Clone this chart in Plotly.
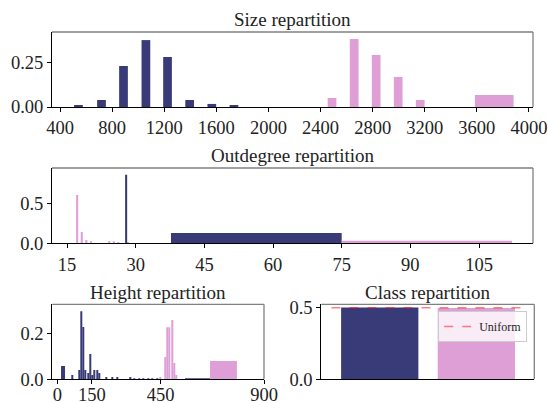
import plotly.graph_objects as go

BLUE = "#393b79"
PINK = "#de9ed6"
FONT = "Liberation Serif"

# ---------------- data ----------------
# Size repartition
size_blue_x = [541, 718, 887, 1059, 1225, 1395, 1565, 1735]
size_blue_y = [0.011, 0.039, 0.228, 0.372, 0.278, 0.039, 0.017, 0.011]
size_pink_x = [2488, 2658, 2827, 2996, 3165]
size_pink_y = [0.050, 0.378, 0.289, 0.167, 0.039]
size_pink_wide_lo = [3585]
size_pink_wide_hi = [3882]
size_pink_wide_y = [0.067]

# Outdegree repartition
out_pink_x = [17.2, 18.2, 19.2, 20.2, 24.2, 25.2, 26.2, 28.3]
out_pink_y = [0.614, 0.143, 0.042, 0.025, 0.025, 0.025, 0.017, 0.010]
out_blue_x = [27.9]
out_blue_y = [0.872]
out_blue_wide_lo = [37.7]
out_blue_wide_hi = [75.0]
out_blue_wide_y = [0.131]
out_pink_wide_lo = [75.0]
out_pink_wide_hi = [112.2]
out_pink_wide_y = [0.033]

# Height repartition
h_blue_x = [65, 96, 104, 113, 122, 135, 144, 152, 161, 174, 183, 213, 239, 261, 318,
            335, 355, 375, 395, 415, 435]
h_blue_y = [0.019, 0.041, 0.300, 0.231, 0.041, 0.028, 0.112, 0.019, 0.041, 0.041, 0.028,
            0.010, 0.010, 0.010, 0.010, 0.003, 0.003, 0.003, 0.003, 0.003, 0.003]
h_blue_wide_lo = [16, 556]
h_blue_wide_hi = [33.5, 665]
h_blue_wide_y = [0.059, 0.003]
h_pink_x = [448, 470, 479, 487, 500, 509, 518]
h_pink_y = [0.010, 0.098, 0.230, 0.230, 0.262, 0.072, 0.019]
h_pink_wide_lo = [665]
h_pink_wide_hi = [782]
h_pink_wide_y = [0.081]

# Class repartition
class_x = [0, 1]
class_y = [0.502, 0.498]
uniform_x = [-0.5, 1.5]
uniform_y = [0.5, 0.5]


def wide(lo, hi):
    return [(a + b) / 2 for a, b in zip(lo, hi)], [b - a for a, b in zip(lo, hi)]


fig = go.Figure()

# ---- top: size
fig.add_trace(go.Bar(x=size_blue_x, y=size_blue_y, width=67, marker_color=BLUE,
                     marker_line_width=0, xaxis="x", yaxis="y", showlegend=False))
fig.add_trace(go.Bar(x=size_pink_x, y=size_pink_y, width=67, marker_color=PINK,
                     marker_line_width=0, xaxis="x", yaxis="y", showlegend=False))
cx, w = wide(size_pink_wide_lo, size_pink_wide_hi)
fig.add_trace(go.Bar(x=cx, y=size_pink_wide_y, width=w, marker_color=PINK,
                     marker_line_width=0, xaxis="x", yaxis="y", showlegend=False))

# ---- middle: outdegree
fig.add_trace(go.Bar(x=out_pink_x, y=out_pink_y, width=0.45, marker_color=PINK,
                     marker_line_width=0, xaxis="x2", yaxis="y2", showlegend=False))
fig.add_trace(go.Bar(x=out_blue_x, y=out_blue_y, width=0.45, marker_color=BLUE,
                     marker_line_width=0, xaxis="x2", yaxis="y2", showlegend=False))
cx, w = wide(out_blue_wide_lo, out_blue_wide_hi)
fig.add_trace(go.Bar(x=cx, y=out_blue_wide_y, width=w, marker_color=BLUE,
                     marker_line_width=0, xaxis="x2", yaxis="y2", showlegend=False))
cx, w = wide(out_pink_wide_lo, out_pink_wide_hi)
fig.add_trace(go.Bar(x=cx, y=out_pink_wide_y, width=w, marker_color=PINK,
                     marker_line_width=0, xaxis="x2", yaxis="y2", showlegend=False))

# ---- bottom left: height
fig.add_trace(go.Bar(x=h_blue_x, y=h_blue_y, width=4, marker_color=BLUE,
                     marker_line_width=0, xaxis="x3", yaxis="y3", showlegend=False))
cx, w = wide(h_blue_wide_lo, h_blue_wide_hi)
fig.add_trace(go.Bar(x=cx, y=h_blue_wide_y, width=w, marker_color=BLUE,
                     marker_line_width=0, xaxis="x3", yaxis="y3", showlegend=False))
fig.add_trace(go.Bar(x=h_pink_x, y=h_pink_y, width=4, marker_color=PINK,
                     marker_line_width=0, xaxis="x3", yaxis="y3", showlegend=False))
cx, w = wide(h_pink_wide_lo, h_pink_wide_hi)
fig.add_trace(go.Bar(x=cx, y=h_pink_wide_y, width=w, marker_color=PINK,
                     marker_line_width=0, xaxis="x3", yaxis="y3", showlegend=False))

# ---- bottom right: class
fig.add_trace(go.Bar(x=class_x, y=class_y, width=0.8, marker_color=[BLUE, PINK],
                     marker_line_width=0, xaxis="x4", yaxis="y4", showlegend=False))
fig.add_trace(go.Scatter(x=uniform_x, y=uniform_y, mode="lines", name="Uniform",
                         line=dict(color="rgba(255,0,0,0.5)", width=1.5, dash="dash"),
                         xaxis="x4", yaxis="y4", showlegend=True))

W, H = 548, 403


def dom_x(a, b):
    return [a / W, b / W]


def dom_y(top, bottom):
    return [1 - bottom / H, 1 - top / H]


axis_common = dict(showline=True, linecolor="black", linewidth=1, mirror=False,
                   ticks="outside", ticklen=4, tickwidth=0.8, tickcolor="black",
                   showgrid=False, zeroline=False, automargin=False,
                   tickfont=dict(family=FONT, size=18.5, color="#222"))

fig.update_layout(
    width=W, height=H,
    margin=dict(l=0, r=0, t=0, b=0),
    paper_bgcolor="white", plot_bgcolor="white",
    barmode="overlay",
    font=dict(family=FONT, color="#222"),
    xaxis=dict(domain=dom_x(52, 533), range=[338, 4031], tickvals=list(range(400, 4001, 400)),
               anchor="y", **axis_common),
    yaxis=dict(domain=dom_y(32, 107), range=[0, 0.417], tickvals=[0, 0.25],
               ticktext=["0.00", "0.25"], anchor="x", **axis_common),
    xaxis2=dict(domain=dom_x(52, 533), range=[11.7, 116.8], tickvals=list(range(15, 106, 15)),
                anchor="y2", **axis_common),
    yaxis2=dict(domain=dom_y(168, 243.3), range=[0, 0.957], tickvals=[0, 0.5],
                ticktext=["0.0", "0.5"], anchor="x2", **axis_common),
    xaxis3=dict(domain=dom_x(52.3, 264), range=[-22, 900], tickvals=[0, 150, 450, 900],
                anchor="y3", ticklabelstandoff=-6, **axis_common),
    yaxis3=dict(domain=dom_y(304.3, 379.3), range=[0, 0.331], tickvals=[0, 0.2],
                ticktext=["0.0", "0.2"], anchor="x3", **axis_common),
    xaxis4=dict(domain=dom_x(321.3, 534.3), range=[-0.605, 1.6], anchor="y4",
                showline=True, linecolor="black", linewidth=1, showticklabels=False,
                ticks="", showgrid=False, zeroline=False, automargin=False),
    yaxis4=dict(domain=dom_y(304.3, 379.3), range=[0, 0.5236], tickvals=[0, 0.5],
                ticktext=["0.0", "0.5"], anchor="x4", **axis_common),
    legend=dict(x=0.962, y=0.2283, xanchor="right", yanchor="top",
                bgcolor="rgba(255,255,255,0.8)", bordercolor="#cccccc", borderwidth=1,
                font=dict(family=FONT, size=12, color="#222"),
                itemwidth=30, tracegroupgap=0),
)

# gray top/right frame lines + titles
titles = [("Size repartition", "x", "y", 19),
          ("Outdegree repartition", "x2", "y2", 155),
          ("Height repartition", "x3", "y3", 292),
          ("Class repartition", "x4", "y4", 292)]
for text, xa, ya, ty in titles:
    xr, yr = xa + " domain", ya + " domain"
    fig.add_shape(type="line", xref=xr, yref=yr, x0=0, x1=1, y0=1, y1=1,
                  line=dict(color="#808080", width=1.3))
    fig.add_shape(type="line", xref=xr, yref=yr, x0=1, x1=1, y0=0, y1=1,
                  line=dict(color="#808080", width=1.3))
    fig.add_annotation(text=text, xref=xr, yref="paper", x=0.5, y=1 - ty / H,
                       xanchor="center", yanchor="middle", showarrow=False,
                       font=dict(family=FONT, size=19, color="#222"))

# page body has a default 8px margin; drop it so the figure fills the window
fig.write_html("out.html", config={"displayModeBar": False},
               post_script="document.body.style.margin='0';")
